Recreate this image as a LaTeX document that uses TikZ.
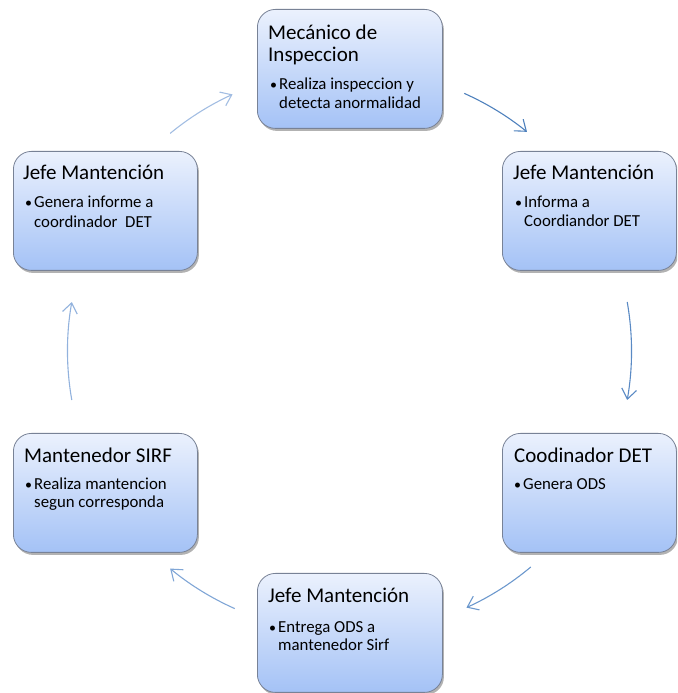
\documentclass[tikz,border=0pt]{standalone}
\usepackage{fontspec}
\setmainfont{Carlito}
\usetikzlibrary{arrows.meta,shadows,calc}
\definecolor{boxtop}{RGB}{235,241,253}
\definecolor{boxbot}{RGB}{164,194,246}
\definecolor{boxborder}{RGB}{120,130,150}
\definecolor{arcA}{RGB}{79,129,189}
\definecolor{arcB}{RGB}{90,138,196}
\definecolor{arcC}{RGB}{108,152,205}
\definecolor{arcD}{RGB}{128,166,214}
\definecolor{arcE}{RGB}{146,178,221}
\definecolor{arcF}{RGB}{162,189,226}
\tikzset{
  box/.style={draw=boxborder, line width=0.8pt, rounded corners=18pt,
    top color=boxtop, bottom color=boxbot, anchor=north west,
    minimum height=119pt, inner sep=0pt,
    drop shadow={shadow xshift=1.5pt, shadow yshift=-2.5pt, opacity=0.3, fill=black}},
  ttl/.style={anchor=base west, inner sep=0pt, font=\fontsize{21}{24}\selectfont, text=black},
  txt/.style={anchor=base west, inner sep=0pt, font=\fontsize{16.8}{20}\selectfont, text=black},
  bul/.style={anchor=base west, inner sep=0pt, font=\fontsize{14}{20}\selectfont, text=black},
  cyc/.style={line width=1.1pt, -{Straight Barb[length=10pt,width=15pt,line width=1.1pt]}},
}
\begin{document}
\begin{tikzpicture}[x=1pt,y=1pt]
\useasboundingbox (0,0) rectangle (677,693);
\begin{scope}
\clip (0,0) rectangle (677,693);
% boxes
\node[box, minimum width=185pt] (n1) at (257,684) {};
\node[box, minimum width=174pt] (n2) at (502,542) {};
\node[box, minimum width=174pt] (n3) at (502,260) {};
\node[box, minimum width=185pt] (n4) at (257,120) {};
\node[box, minimum width=184pt] (n5) at (13,260) {};
\node[box, minimum width=184pt] (n6) at (13,542) {};
\end{scope}
% texts, top box
\node[ttl] (t1a) at (268,653) {Mecánico de};
\node[ttl] (t1b) at (268,631) {Inspeccion};
\node[bul] (b1) at (270,603) {•};
\node[txt] (t1c) at (279,603) {Realiza inspeccion y};
\node[txt] (t1d) at (279,584) {detecta anormalidad};
% right top
\node[ttl] (t2a) at (513,513) {Jefe Mantención};
\node[bul] (b2) at (515,485) {•};
\node[txt] (t2c) at (524,485) {Informa a};
\node[txt] (t2d) at (524,466) {Coordiandor DET};
% right bottom
\node[ttl] (t3a) at (514,230) {Coodinador DET};
\node[bul] (b3) at (514,203) {•};
\node[txt] (t3c) at (523,203) {Genera ODS};
% bottom
\node[ttl] (t4a) at (268,90) {Jefe Mantención};
\node[bul] (b4) at (269,60) {•};
\node[txt] (t4c) at (278,60) {Entrega ODS a};
\node[txt] (t4d) at (278,42) {mantenedor Sirf};
% left bottom
\node[ttl] (t5a) at (24,230) {Mantenedor SIRF};
\node[bul] (b5) at (25,203) {•};
\node[txt] (t5c) at (34,203) {Realiza mantencion};
\node[txt] (t5d) at (34,185) {segun corresponda};
% left top
\node[ttl] (t6a) at (23,513) {Jefe Mantención};
\node[bul] (b6) at (25,485) {•};
\node[txt] (t6c) at (34,485) {Genera informe a};
\node[txt] (t6d) at (34,465) {coordinador~~DET};
% cycle arcs
\coordinate (c) at (349.5,342);
\coordinate (s1) at ($(c)+(66:282)$);
\coordinate (s2) at ($(c)+(10:282)$);
\coordinate (s3) at ($(c)+(-50:282)$);
\coordinate (s4) at ($(c)+(-114:282)$);
\coordinate (s5) at ($(c)+(190:282)$);
\coordinate (s6) at ($(c)+(129.5:282)$);
\draw[cyc, draw=arcA] (s1) arc[start angle=66, end angle=51, radius=282];
\draw[cyc, draw=arcB] (s2) arc[start angle=10, end angle=-10, radius=282];
\draw[cyc, draw=arcC] (s3) arc[start angle=-50, end angle=-65.5, radius=282];
\draw[cyc, draw=arcD] (s4) arc[start angle=-114, end angle=-129.5, radius=282];
\draw[cyc, draw=arcE] (s5) arc[start angle=190, end angle=170, radius=282];
\draw[cyc, draw=arcF] (s6) arc[start angle=129.5, end angle=114.5, radius=282];
\end{tikzpicture}
\end{document}
